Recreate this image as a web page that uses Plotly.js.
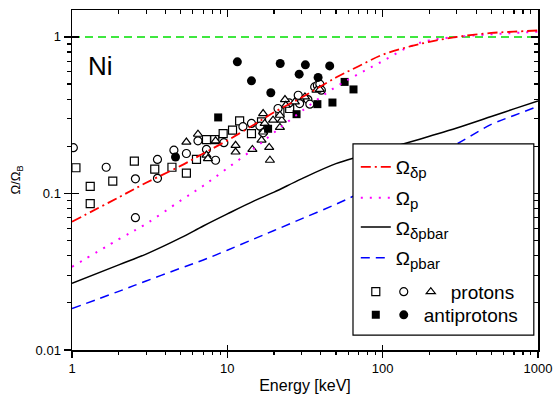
<!DOCTYPE html>
<html>
<head>
<meta charset="utf-8">
<script src="https://cdn.plot.ly/plotly-3.0.1.min.js"></script>
<style>html,body{margin:0;padding:0;background:#fff;}#chart{width:554px;height:400px;}</style>
</head>
<body>
<div id="chart"></div>
<script>
// ---- curve data (energy in keV) ----
const energyLine = [1, 2, 3, 5, 7, 10, 15, 20, 30, 50, 70, 100, 150, 200, 300, 500, 700, 1000];
const omegaDeltaP    = [0.066, 0.0945, 0.117, 0.150, 0.180, 0.218, 0.277, 0.33, 0.41, 0.55, 0.65, 0.77, 0.87, 0.93, 1.0, 1.06, 1.08, 1.10];
const omegaP         = [0.034, 0.051, 0.064, 0.090, 0.112, 0.145, 0.195, 0.245, 0.335, 0.48, 0.58, 0.70, 0.87, 0.95, 1.0, 1.04, 1.06, 1.08];
const omegaDeltaPbar = [0.0267, 0.035, 0.041, 0.052, 0.062, 0.074, 0.090, 0.102, 0.124, 0.155, 0.172, 0.19, 0.213, 0.232, 0.262, 0.31, 0.347, 0.39];
const omegaPbar      = [0.0184, 0.0237, 0.0276, 0.0333, 0.0376, 0.0434, 0.0515, 0.058, 0.0688, 0.0853, 0.0997, 0.119, 0.146, 0.168, 0.207, 0.276, 0.315, 0.36];
const unityX = [1, 1000];
const unityY = [1, 1];

// ---- experimental points ----
const protonSqX = [1.06, 1.31, 1.31, 1.83, 2.52, 3.41, 4.4, 5.45, 6.33, 7.34, 8.3, 9.4, 10.8, 12.0, 14.3, 16.6, 21.8, 25.2, 29.1];
const protonSqY = [0.146, 0.111, 0.086, 0.120, 0.161, 0.143, 0.147, 0.135, 0.165, 0.221, 0.221, 0.241, 0.254, 0.291, 0.241, 0.287, 0.332, 0.349, 0.394];
const protonCircX = [1.02, 1.66, 2.56, 2.56, 3.55, 3.55, 4.53, 5.45, 6.47, 7.34, 8.4, 9.5, 12.6, 14.3, 16.2, 17.0, 21.2, 25, 28.6, 29.2, 33, 34, 36.5, 38, 39.4, 40.3];
const protonCircY = [0.196, 0.147, 0.124, 0.070, 0.165, 0.125, 0.189, 0.180, 0.217, 0.191, 0.163, 0.211, 0.267, 0.28, 0.269, 0.244, 0.349, 0.379, 0.424, 0.375, 0.398, 0.372, 0.479, 0.49, 0.499, 0.457];
const protonTriX = [5.45, 6.47, 7.34, 8.4, 7.5, 11.3, 11.3, 14.5, 18.6, 18.8, 17.0, 17.4, 16.6, 19.7, 22.4, 21.8, 21.8, 23.5, 23.8, 27.2, 31.6, 37.5, 39.4, 17.0];
const protonTriY = [0.213, 0.239, 0.176, 0.217, 0.167, 0.203, 0.184, 0.191, 0.197, 0.163, 0.324, 0.28, 0.219, 0.294, 0.294, 0.264, 0.316, 0.398, 0.366, 0.385, 0.414, 0.457, 0.462, 0.247];
const antiSqX = [8.73, 18.3, 27.9, 38.0, 47.5, 56.9, 64.9];
const antiSqY = [0.306, 0.259, 0.321, 0.372, 0.381, 0.516, 0.462];
const antiCircX = [4.64, 11.6, 14.3, 19.05, 21.9, 29.0, 31.8, 38.4, 45.6];
const antiCircY = [0.171, 0.693, 0.524, 0.44, 0.676, 0.578, 0.663, 0.551, 0.653];

// ---- ticks / labels ----
const xTickVals = [1, 10, 100, 1000];
const xTickText = ['1', '10', '100', '1000'];
const yTickVals = [0.01, 0.1, 1];
const yTickText = ['0.01', '0.1', '1'];
const sub = (s) => 'Ω<sub><span style="font-size:15px">' + s + '</span></sub>';
const curveNames = [sub('δp'), sub('p'), sub('δpbar'), sub('pbar')];

const FONT = 'Liberation Sans, Arial, sans-serif';
const openMarker = (sym) => ({symbol: sym, size: 8, color: '#ffffff', line: {color: '#000', width: 1.2}});
const fillMarker = (sym, s) => ({symbol: sym, size: s, color: '#000', line: {color: '#000', width: 0}});

const traces = [
  {x: protonSqX, y: protonSqY, mode: 'markers', marker: openMarker('square'), name: ' ', legend: 'legend5'},
  {x: protonCircX, y: protonCircY, mode: 'markers', marker: openMarker('circle'), name: ' ', legend: 'legend6'},
  {x: protonTriX, y: protonTriY, mode: 'markers', marker: openMarker('triangle-up'), name: 'protons', legend: 'legend7'},
  {x: antiSqX, y: antiSqY, mode: 'markers', marker: fillMarker('square', 8), name: ' ', legend: 'legend8'},
  {x: antiCircX, y: antiCircY, mode: 'markers', marker: fillMarker('circle', 9), name: 'antiprotons', legend: 'legend9'},
  {x: unityX, y: unityY, mode: 'lines', line: {color: '#00e000', width: 1.5, dash: '8px,5px'}, showlegend: false},
  {x: energyLine, y: omegaPbar, mode: 'lines', line: {color: '#0000ff', width: 1.5, dash: '9px,6px', shape: 'spline'}, name: curveNames[3], legend: 'legend4'},
  {x: energyLine, y: omegaDeltaPbar, mode: 'lines', line: {color: '#000', width: 1.5, shape: 'spline'}, name: curveNames[2], legend: 'legend3'},
  {x: energyLine, y: omegaP, mode: 'lines', line: {color: '#ff00ff', width: 2, dash: '2px,7px', shape: 'spline'}, name: curveNames[1], legend: 'legend2'},
  {x: energyLine, y: omegaDeltaP, mode: 'lines', line: {color: '#ff0000', width: 1.8, dash: '10px,4px,2px,4px', shape: 'spline'}, name: curveNames[0], legend: 'legend'},
  // empty helpers so the mirrored tick axes get drawn
  {x: [], y: [], xaxis: 'x2', yaxis: 'y2', showlegend: false, hoverinfo: 'skip'},
  {x: [], y: [], xaxis: 'x3', yaxis: 'y3', showlegend: false, hoverinfo: 'skip'}
];

const xr = [0, 3];
const yr = [-2, 0.172];
const tickFont = {family: FONT, size: 13, color: '#000'};

const legendAt = (xp, yc) => ({
  x: xp, xanchor: 'left', y: yc, yanchor: 'middle', bgcolor: 'rgba(0,0,0,0)', borderwidth: 0,
  font: {family: FONT, size: 19, color: '#000'}, orientation: 'v',
  itemwidth: 30, traceorder: 'normal', itemclick: false, itemdoubleclick: false
});
const LX = 0.609;

const layout = {
  width: 554, height: 400,
  margin: {l: 72, r: 16, t: 10, b: 50, autoexpand: false},
  paper_bgcolor: '#fff', plot_bgcolor: '#fff',
  font: {family: FONT, size: 13, color: '#000'},
  showlegend: true,
  hovermode: false,
  xaxis: {
    type: 'log', range: xr, tickmode: 'array', tickvals: xTickVals, ticktext: xTickText,
    ticks: 'outside', ticklen: 6, tickwidth: 1.2, tickcolor: '#000',
    minor: {ticks: 'outside', ticklen: 3, tickwidth: 1.2, tickcolor: '#000', dtick: 'D1'},
    showline: true, linecolor: '#000', linewidth: 1.5, mirror: true,
    showgrid: false, zeroline: false, tickfont: tickFont,
    title: {text: 'Energy [keV]', font: {family: FONT, size: 16, color: '#000'}, standoff: 4}
  },
  yaxis: {
    type: 'log', range: yr, tickmode: 'array', tickvals: yTickVals, ticktext: yTickText,
    ticks: 'outside', ticklen: 7, tickwidth: 1.2, tickcolor: '#000',
    minor: {ticks: 'outside', ticklen: 4, tickwidth: 1.2, tickcolor: '#000', dtick: 'D1'},
    showline: true, linecolor: '#000', linewidth: 1.5, mirror: true,
    showgrid: false, zeroline: false, tickfont: tickFont,
    title: {text: 'Ω/Ω<sub>B</sub>', font: {family: FONT, size: 13, color: '#000'}, standoff: 12}
  },
  xaxis2: {
    type: 'log', range: xr, overlaying: 'x', side: 'top', anchor: 'y2', tickmode: 'array', tickvals: xTickVals,
    ticks: 'inside', ticklen: 7, tickwidth: 1.2, tickcolor: '#000', showticklabels: false,
    minor: {ticks: 'inside', ticklen: 4, tickwidth: 1.2, tickcolor: '#000', dtick: 'D1'},
    showline: false, showgrid: false, zeroline: false
  },
  yaxis2: {
    type: 'log', range: yr, overlaying: 'y', side: 'right', anchor: 'x2', tickmode: 'array', tickvals: yTickVals,
    ticks: 'inside', ticklen: 7, tickwidth: 1.2, tickcolor: '#000', showticklabels: false,
    minor: {ticks: 'inside', ticklen: 4, tickwidth: 1.2, tickcolor: '#000', dtick: 'D1'},
    showline: false, showgrid: false, zeroline: false
  },
  xaxis3: {
    type: 'log', range: xr, overlaying: 'x', side: 'bottom', anchor: 'y3', tickmode: 'array', tickvals: xTickVals,
    ticks: 'inside', ticklen: 5, tickwidth: 1.2, tickcolor: '#000', showticklabels: false,
    showline: false, showgrid: false, zeroline: false
  },
  yaxis3: {
    type: 'log', range: yr, overlaying: 'y', side: 'left', anchor: 'x3', tickmode: 'array', tickvals: yTickVals,
    ticks: 'inside', ticklen: 7, tickwidth: 1.2, tickcolor: '#000', showticklabels: false,
    showline: false, showgrid: false, zeroline: false
  },
  shapes: [{
    type: 'rect', xref: 'paper', yref: 'paper', x0: 0.603, x1: 0.991, y0: 0.044, y1: 0.606,
    line: {color: '#000', width: 1.2}, fillcolor: '#fff', layer: 'above'
  }],
  annotations: [{
    text: 'Ni', xref: 'paper', yref: 'paper', x: 0.03, y: 0.835, xanchor: 'left', yanchor: 'middle',
    showarrow: false, font: {family: FONT, size: 26, color: '#000'}
  }],
  legend: legendAt(LX, 0.538),
  legend2: legendAt(LX, 0.447),
  legend3: legendAt(LX, 0.361),
  legend4: legendAt(LX, 0.271),
  legend5: legendAt(LX, 0.171),
  legend6: legendAt(0.669, 0.171),
  legend7: legendAt(0.727, 0.171),
  legend8: legendAt(LX, 0.103),
  legend9: legendAt(0.669, 0.103)
};

Plotly.newPlot('chart', traces, layout, {staticPlot: true, displayModeBar: false});
</script>
</body>
</html>
